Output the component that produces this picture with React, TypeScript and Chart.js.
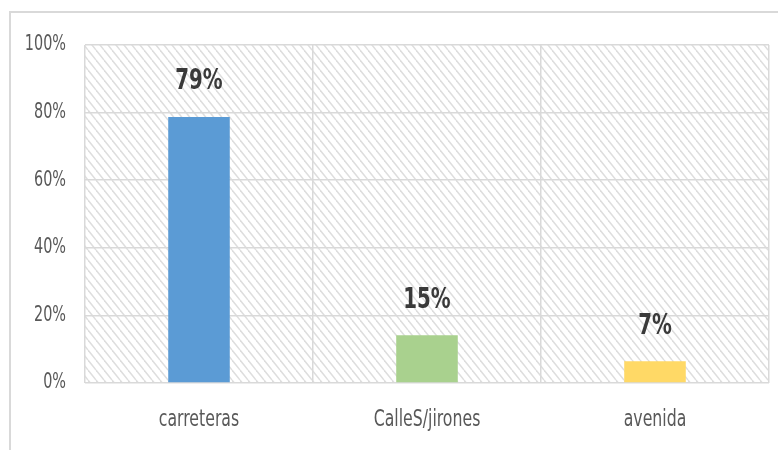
import React, { useEffect, useRef } from "react";
import { Chart, registerables } from "chart.js";

Chart.register(...registerables);

const categories = ["carreteras", "CalleS/jirones", "avenida"];
const values = [78.7, 14.1, 6.4];
const valueLabels = ["79%", "15%", "7%"];
const barColors = ["#5B9BD5", "#A9D18E", "#FFD966"];
const yTicks = [0, 20, 40, 60, 80, 100];

const FONT = '"DejaVu Sans Condensed", "Liberation Sans Narrow", sans-serif';
const STRETCH = 1.3;

function makePattern(ctx: CanvasRenderingContext2D) {
  const w = 8;
  const h = 10;
  const c = document.createElement("canvas");
  c.width = w;
  c.height = h;
  const p = c.getContext("2d")!;
  p.fillStyle = "#ffffff";
  p.fillRect(0, 0, w, h);
  p.strokeStyle = "#dedede";
  p.lineWidth = 1.5;
  for (const k of [-w, 0, w]) {
    p.beginPath();
    p.moveTo(k, 0);
    p.lineTo(k + w, h);
    p.stroke();
  }
  return ctx.createPattern(c, "repeat")!;
}

function drawText(
  ctx: CanvasRenderingContext2D,
  text: string,
  x: number,
  y: number,
  align: CanvasTextAlign,
  font: string,
  color: string
) {
  ctx.save();
  ctx.translate(x, y);
  ctx.scale(1, STRETCH);
  ctx.font = font;
  ctx.fillStyle = color;
  ctx.textAlign = align;
  ctx.textBaseline = "middle";
  ctx.fillText(text, 0, 0);
  ctx.restore();
}

const framePlugin = {
  id: "frameAndHatch",
  beforeDraw(chart: any) {
    const ctx = chart.ctx as CanvasRenderingContext2D;
    const a = chart.chartArea;
    ctx.save();
    ctx.fillStyle = "#ffffff";
    ctx.fillRect(0, 0, chart.width, chart.height);
    ctx.strokeStyle = "#d9d9d9";
    ctx.lineWidth = 2;
    ctx.beginPath();
    ctx.moveTo(10, chart.height);
    ctx.lineTo(10, 12);
    ctx.lineTo(chart.width, 12);
    ctx.stroke();
    ctx.fillStyle = makePattern(ctx);
    ctx.fillRect(a.left, a.top, a.right - a.left, a.bottom - a.top);
    ctx.restore();
  },
  afterDraw(chart: any) {
    const ctx = chart.ctx as CanvasRenderingContext2D;
    const meta = chart.getDatasetMeta(0);
    meta.data.forEach((bar: any, i: number) => {
      drawText(ctx, valueLabels[i], bar.x, bar.y - 35, "center", `bold 22px ${FONT}`, "#3a3a3a");
    });
    const ys = chart.scales.y;
    ys.ticks.forEach((t: any, i: number) => {
      drawText(ctx, String(t.label), 66, ys.getPixelForTick(i), "right", `16px ${FONT}`, "#595959");
    });
    const xs = chart.scales.x;
    xs.ticks.forEach((t: any, i: number) => {
      drawText(ctx, String(t.label), xs.getPixelForTick(i), 420, "center", `17.5px ${FONT}`, "#595959");
    });
  },
};

export default function App() {
  const ref = useRef<HTMLCanvasElement>(null);
  useEffect(() => {
    const chart = new Chart(ref.current!, {
      type: "bar",
      data: {
        labels: categories,
        datasets: [
          {
            data: values,
            backgroundColor: barColors,
            borderWidth: 0,
            barPercentage: 0.27,
            categoryPercentage: 1,
          },
        ],
      },
      options: {
        responsive: false,
        animation: false,
        layout: { padding: { top: 45, right: 9, left: 0, bottom: 0 } },
        plugins: { legend: { display: false }, tooltip: { enabled: false } },
        scales: {
          x: {
            grid: { color: "#d9d9d9", lineWidth: 1.5, drawTicks: false, offset: true },
            border: { display: false },
            ticks: { color: "rgba(0,0,0,0)", font: { family: FONT, size: 17 }, padding: 26 },
            afterFit: (s: any) => {
              s.height = 67;
            },
          },
          y: {
            min: 0,
            max: 100,
            afterBuildTicks: (s: any) => {
              s.ticks = yTicks.map((v) => ({ value: v }));
            },
            grid: { color: "#d9d9d9", lineWidth: 1.5, drawTicks: false },
            border: { display: false },
            ticks: {
              color: "rgba(0,0,0,0)",
              font: { family: FONT, size: 16 },
              padding: 19,
              callback: (v: any) => v + "%",
            },
            afterFit: (s: any) => {
              s.width = 85;
            },
          },
        },
      },
      plugins: [framePlugin],
    });
    return () => chart.destroy();
  }, []);
  return (
    <div style={{ position: "fixed", left: 0, top: 0, width: 778, height: 450 }}>
      <canvas ref={ref} width={778} height={450} style={{ display: "block" }} />
    </div>
  );
}
